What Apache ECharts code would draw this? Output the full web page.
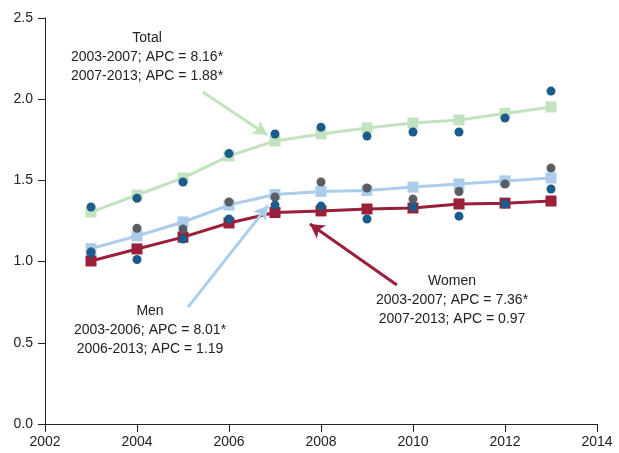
<!DOCTYPE html>
<html><head><meta charset="utf-8">
<script src="https://cdn.jsdelivr.net/npm/echarts@6/dist/echarts.min.js"></script>
<style>html,body{margin:0;padding:0;background:#fff}#c{width:619px;height:453px}</style>
</head><body><div id="c"></div>
<script>
var years = [2003,2004,2005,2006,2007,2008,2009,2010,2011,2012,2013];
var totalFit = [1.305,1.41,1.515,1.65,1.743,1.786,1.823,1.853,1.872,1.912,1.952];
var totalObs = [1.336,1.39,1.49,1.665,1.786,1.828,1.773,1.798,1.798,1.884,2.05];
var menFit   = [1.08,1.158,1.244,1.348,1.413,1.432,1.438,1.459,1.478,1.497,1.515];
var menObs   = [1.06,1.205,1.20,1.367,1.398,1.49,1.453,1.385,1.432,1.478,1.576];
var womenFit = [1.004,1.078,1.151,1.238,1.302,1.312,1.324,1.33,1.355,1.36,1.373];
var womenObs = [1.053,1.013,1.139,1.262,1.348,1.342,1.262,1.336,1.28,1.355,1.447];
var xTicks = [2002,2004,2006,2008,2010,2012,2014];
var yTicks = [0,0.5,1.0,1.5,2.0,2.5];

var C = {green:'#c3e2bf', lblue:'#abcdeb', red:'#9a1f38', blue:'#1a5c8c', grey:'#5a5e64', text:'#222'};
var FF = 'Liberation Sans, Arial, sans-serif';
function pair(a){return years.map(function(y,i){return [y,a[i]];});}
function fit(name,data,color){
  return {name:name,type:'line',data:pair(data),symbol:'rect',symbolSize:11,
    lineStyle:{color:color,width:3},itemStyle:{color:color,opacity:1},z:2,silent:true,animation:false};
}
function obs(name,data,color,z){
  return {name:name,type:'scatter',data:pair(data),symbol:'circle',symbolSize:9,
    itemStyle:{color:color,opacity:1},z:z,silent:true,animation:false};
}
function arrow(color,from,to){
  return {type:'line',data:[],silent:true,animation:false,
    markLine:{silent:true,animation:false,symbol:['none','arrow'],symbolSize:[12,14],
      label:{show:false},lineStyle:{color:color,width:3,type:'solid',opacity:1},
      emphasis:{disabled:true},
      data:[[{coord:from},{coord:to}]]}};
}
var tf = {fontFamily:FF,fontSize:14,fill:C.text,textAlign:'center',lineHeight:19};
var chart = echarts.init(document.getElementById('c'));
chart.setOption({
  animation:false,
  grid:{left:45,right:22,top:18,bottom:29},
  xAxis:{type:'value',min:2002,max:2014,interval:2,
    axisLine:{lineStyle:{color:C.text,width:1}},
    axisTick:{length:8,lineStyle:{color:C.text}},
    axisLabel:{color:C.text,fontSize:14,fontFamily:FF,margin:11,formatter:function(v){return String(v);}},
    splitLine:{show:false}},
  yAxis:{type:'value',min:0,max:2.5,interval:0.5,
    axisLine:{show:true,lineStyle:{color:C.text,width:1}},
    axisTick:{show:true,length:7,lineStyle:{color:C.text}},
    axisLabel:{color:C.text,fontSize:14,fontFamily:FF,margin:12,formatter:function(v){return v.toFixed(1);}},
    splitLine:{show:false}},
  series:[
    fit('Total fitted',totalFit,C.green),
    fit('Men fitted',menFit,C.lblue),
    fit('Women fitted',womenFit,C.red),
    obs('Men observed',menObs,C.grey,3),
    obs('Total observed',totalObs,C.blue,4),
    obs('Women observed',womenObs,C.blue,4),
    arrow(C.green,[2005.43,2.044],[2006.83,1.78]),
    arrow(C.lblue,[2005.11,0.72],[2006.85,1.345]),
    arrow(C.red,[2009.65,0.856],[2007.76,1.231])
  ],
  graphic:[
    {type:'text',x:147,y:29,style:Object.assign({},tf,{text:'Total\n2003-2007; APC = 8.16*\n2007-2013; APC = 1.88*'})},
    {type:'text',x:150,y:302,style:Object.assign({},tf,{text:'Men\n2003-2006; APC = 8.01*\n2006-2013; APC = 1.19'})},
    {type:'text',x:452,y:272,style:Object.assign({},tf,{text:'Women\n2003-2007; APC = 7.36*\n2007-2013; APC = 0.97'})}
  ]
});
</script></body></html>
